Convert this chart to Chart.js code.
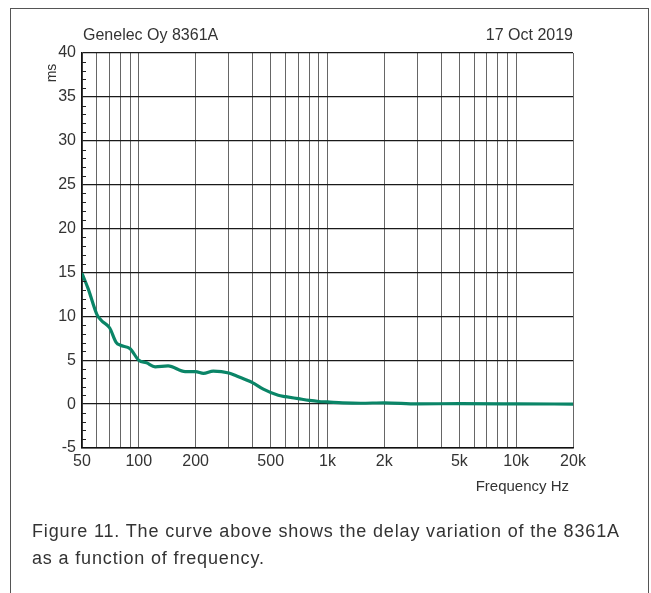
<!DOCTYPE html>
<html>
<head>
<meta charset="utf-8">
<title>Genelec 8361A delay</title>
<script src="https://cdn.jsdelivr.net/npm/chart.js@4/dist/chart.umd.min.js"></script>
<style>
  html, body { margin: 0; padding: 0; background: #fff; }
  body { width: 651px; height: 593px; position: relative; overflow: hidden;
         font-family: "Liberation Sans", Arial, Helvetica, sans-serif; }
  #frame { position: absolute; left: 10px; top: 8px; width: 637px; height: 600px;
           border: 1px solid #555; border-bottom: none; }
  #wrap { position: absolute; left: 0; top: 0; width: 651px; height: 593px; }
  #caption { position: absolute; left: 32px; top: 518px; width: 615px;
             font-size: 18px; letter-spacing: 0.85px; line-height: 27px; color: #333; margin: 0;
             white-space: nowrap; }
</style>
</head>
<body>
<div id="frame"></div>
<div id="wrap"><canvas id="delayChart"></canvas></div>
<p id="caption">Figure 11. The curve above shows the delay variation of the 8361A<br>as a function of frequency.</p>
<script>
// delay curve
const freqs  = [50, 54, 60, 63.5, 70, 76, 80, 90, 100, 110, 122, 143, 176, 200, 220, 248, 300, 330,
                400, 457, 548, 600, 700, 800, 900, 1000, 1200, 1500, 2000, 3000, 5000, 10000, 20000];
const delays = [14.9, 13.1, 10.2, 9.5, 8.7, 7.0, 6.7, 6.3, 5.0, 4.7, 4.25, 4.35, 3.7, 3.7, 3.5, 3.75, 3.55, 3.2,
                2.45, 1.7, 1.0, 0.85, 0.62, 0.42, 0.3, 0.25, 0.15, 0.1, 0.15, 0.03, 0.05, 0.03, 0.0];

// axes
const xGridValues = [50, 60, 70, 80, 90, 100, 200, 300, 400, 500, 600, 700, 800, 900,
                     1000, 2000, 3000, 4000, 5000, 6000, 7000, 8000, 9000, 10000, 20000];
const xLabelValues = [50, 100, 200, 500, 1000, 2000, 5000, 10000, 20000];
const xLabelTexts  = ['50', '100', '200', '500', '1k', '2k', '5k', '10k', '20k'];
const yMin = -5, yMax = 40, yStep = 5;

const textColor = '#333';

const decorations = {
  id: 'decorations',
  afterDraw(chart) {
    const ctx = chart.ctx;
    const y = chart.scales.y;
    const area = chart.chartArea;
    ctx.save();
    // small inward ticks every 1 ms
    ctx.strokeStyle = '#222';
    ctx.lineWidth = 1;
    for (let v = yMin; v <= yMax; v++) {
      if (v % yStep === 0) continue;
      const py = Math.round(y.getPixelForValue(v)) + 0.5;
      ctx.beginPath();
      ctx.moveTo(area.left, py);
      ctx.lineTo(area.left + 4, py);
      ctx.stroke();
    }
    ctx.fillStyle = textColor;
    ctx.font = '16px "Liberation Sans", Arial, sans-serif';
    ctx.textBaseline = 'alphabetic';
    ctx.textAlign = 'left';
    ctx.fillText('Genelec Oy 8361A', 83, 40);
    ctx.textAlign = 'right';
    ctx.fillText('17 Oct 2019', 573, 40);
    ctx.font = '15px "Liberation Sans", Arial, sans-serif';
    ctx.fillText('Frequency Hz', 569, 491);
    // unit label, rotated
    ctx.translate(56, 73);
    ctx.rotate(-Math.PI / 2);
    ctx.textAlign = 'center';
    ctx.font = '14px "Liberation Sans", Arial, sans-serif';
    ctx.fillText('ms', 0, 0);
    ctx.restore();
  }
};

new Chart(document.getElementById('delayChart'), {
  type: 'line',
  data: {
    datasets: [{
      data: freqs.map((f, i) => ({ x: f, y: delays[i] })),
      borderColor: '#0a8567',
      borderWidth: 3.2,
      pointRadius: 0,
      fill: false,
      cubicInterpolationMode: 'monotone'
    }]
  },
  options: {
    responsive: true,
    maintainAspectRatio: false,
    animation: false,
    layout: { padding: { left: 0, top: 53, right: 78, bottom: 115 } },
    plugins: { legend: { display: false }, tooltip: { enabled: false } },
    scales: {
      x: {
        type: 'logarithmic',
        min: 50,
        max: 20000,
        afterBuildTicks(scale) {
          scale.ticks = xGridValues.map(v => ({ value: v }));
        },
        afterFit(scale) { scale.height = 30; },
        ticks: {
          autoSkip: false,
          maxRotation: 0,
          padding: 4,
          color: textColor,
          font: { family: '"Liberation Sans", Arial, sans-serif', size: 16 },
          callback(value) {
            const i = xLabelValues.indexOf(value);
            return i >= 0 ? xLabelTexts[i] : '';
          }
        },
        grid: { color: '#666', lineWidth: 1, drawTicks: false },
        border: { color: '#111', width: 1.5 }
      },
      y: {
        min: yMin,
        max: yMax,
        afterFit(scale) { scale.width = 82; },
        ticks: {
          stepSize: yStep,
          padding: 6,
          color: textColor,
          font: { family: '"Liberation Sans", Arial, sans-serif', size: 16 }
        },
        grid: { color: '#1a1a1a', lineWidth: 1.3, drawTicks: false },
        border: { color: '#111', width: 1.5 }
      }
    }
  },
  plugins: [decorations]
});
</script>
</body>
</html>
